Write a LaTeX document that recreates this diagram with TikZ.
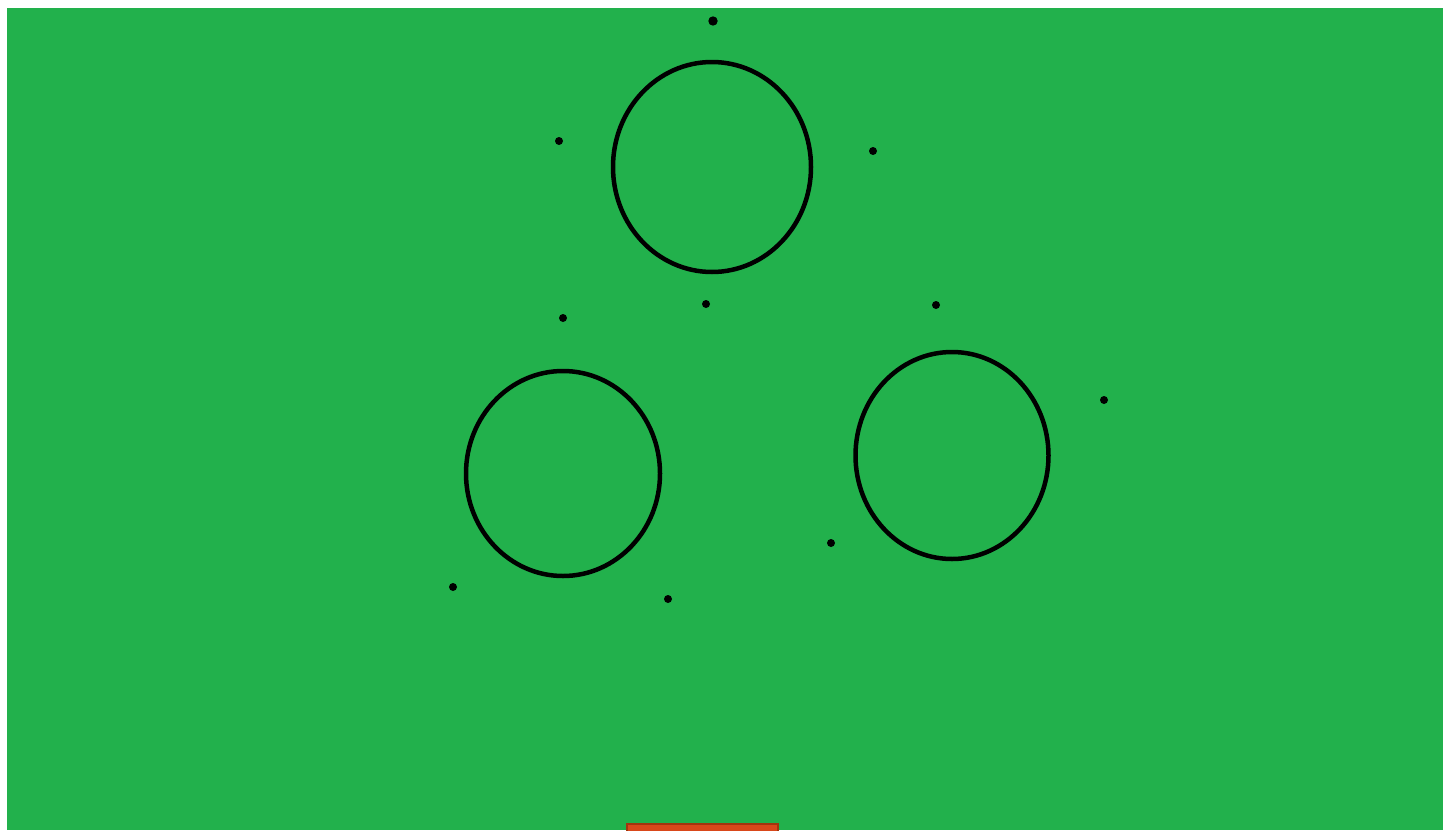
\documentclass[tikz,border=0pt]{standalone}
\definecolor{bggreen}{HTML}{22B14C}
\definecolor{boxorange}{HTML}{D9481A}
\definecolor{boxedge}{HTML}{A3350F}
\tikzset{
  ring/.style={draw=black, line width=4.5pt},
  dot/.style={fill=black},
}
\begin{document}
\begin{tikzpicture}[x=1pt,y=-1pt]
\useasboundingbox (0,0) rectangle (1443,830);
\fill[white] (0,0) rectangle (1443,830);
\fill[bggreen] (7,8) rectangle (1443,830);
\filldraw[fill=boxorange, draw=boxedge, line width=2pt] (627,824) rectangle (778,834);
\draw[ring] (712,167) ellipse [x radius=99, y radius=105];
\draw[ring] (563,473.5) ellipse [x radius=97, y radius=102.5];
\draw[ring] (952,455.5) ellipse [x radius=96.5, y radius=103.5];
\fill[dot] (713,21) circle (4.7);
\foreach \p in {(559,141),(873,151),(706,304),(936,305),(563,318),(1104,400),(831,543),(453,587),(668,599)}
  \fill[dot] \p circle (4);
\end{tikzpicture}
\end{document}
